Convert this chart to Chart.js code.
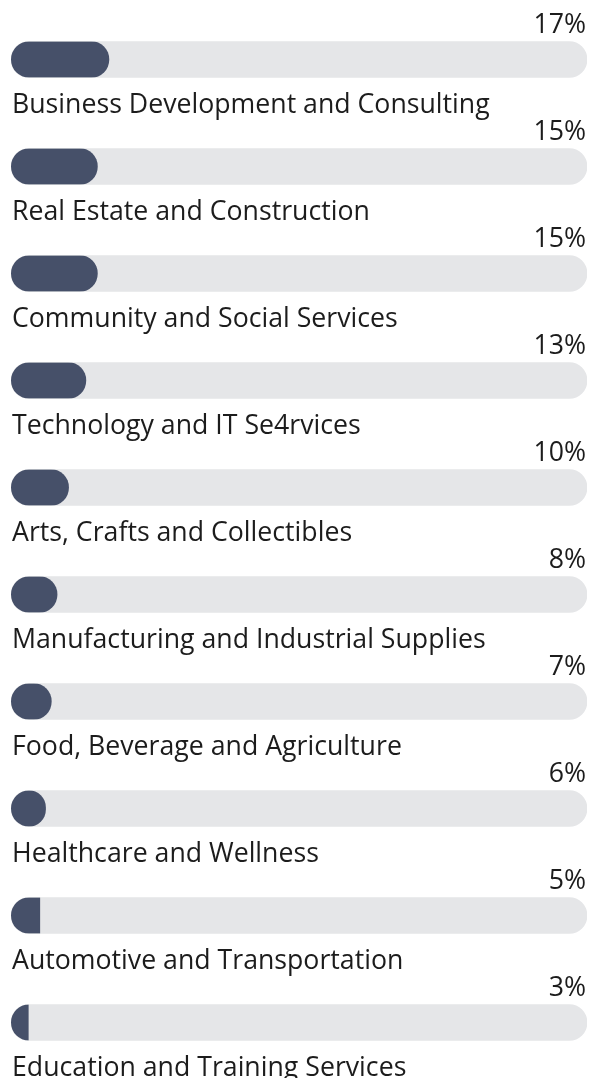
<!DOCTYPE html>
<html>
<head>
<meta charset="utf-8">
<script src="https://cdn.jsdelivr.net/npm/chart.js@4/dist/chart.umd.min.js"></script>
<style>
  html, body { margin: 0; padding: 0; background: #ffffff; }
  #wrap { position: relative; width: 591px; height: 1078px; }
</style>
</head>
<body>
<div id="wrap"><canvas id="chart"></canvas></div>
<script>
// Industry breakdown, share of total (%)
const categories = [
  'Business Development and Consulting',
  'Real Estate and Construction',
  'Community and Social Services',
  'Technology and IT Se4rvices',
  'Arts, Crafts and Collectibles',
  'Manufacturing and Industrial Supplies',
  'Food, Beverage and Agriculture',
  'Healthcare and Wellness',
  'Automotive and Transportation',
  'Education and Training Services'
];
const shares = [17, 15, 15, 13, 10, 8, 7, 6, 5, 3];
const trackMax = [100, 100, 100, 100, 100, 100, 100, 100, 100, 100];

const FILL = '#465069';
const TRACK = '#e5e6e8';
const TEXT = '#1c1c1c';
const THICK = 36;
const FONT = '26.7px "Open Sans", "Noto Sans", sans-serif';

// Clip the filled bars to the rounded track, then write the labels.
const progressPlugin = {
  id: 'progressBars',
  beforeDatasetDraw(chart, args) {
    if (args.index !== 0) return;
    const ctx = chart.ctx;
    const track = chart.getDatasetMeta(1).data;
    ctx.save();
    ctx.beginPath();
    track.forEach(el => {
      const h = el.height;
      ctx.roundRect(el.base, el.y - h / 2, el.x - el.base, h, h / 2);
    });
    ctx.clip();
  },
  afterDatasetDraw(chart, args) {
    if (args.index !== 0) return;
    chart.ctx.restore();
  },
  afterDatasetsDraw(chart) {
    const ctx = chart.ctx;
    const track = chart.getDatasetMeta(1).data;
    ctx.save();
    ctx.font = FONT;
    ctx.fillStyle = TEXT;
    ctx.textBaseline = 'alphabetic';
    track.forEach((el, i) => {
      ctx.textAlign = 'right';
      ctx.fillText(shares[i] + '%', el.x - 1, el.y - 26.4);
      ctx.textAlign = 'left';
      ctx.fillText(categories[i], el.base + 1, el.y + 53.6);
    });
    ctx.restore();
  }
};

new Chart(document.getElementById('chart'), {
  type: 'bar',
  data: {
    labels: categories,
    datasets: [
      {
        label: 'Share',
        data: shares,
        backgroundColor: FILL,
        barThickness: THICK,
        borderSkipped: 'start',
        borderRadius: (c) => {
          const x = c.chart.scales.x;
          const v = c.raw;
          if (!x || v == null) return 0;
          const w = x.getPixelForValue(v) - x.getPixelForValue(0);
          const r = w >= THICK - 2 ? THICK / 2 : 0;
          return { topLeft: 0, bottomLeft: 0, topRight: r, bottomRight: r };
        }
      },
      {
        label: 'Track',
        data: trackMax,
        backgroundColor: TRACK,
        barThickness: THICK,
        borderSkipped: false,
        borderRadius: THICK / 2
      }
    ]
  },
  options: {
    indexAxis: 'y',
    responsive: true,
    maintainAspectRatio: false,
    animation: false,
    grouped: false,
    layout: { padding: { left: 11, right: 4, top: 6, bottom: 2 } },
    scales: {
      x: { display: false, min: 0, max: 100 },
      y: { display: false, offset: true }
    },
    plugins: {
      legend: { display: false },
      tooltip: { enabled: false }
    }
  },
  plugins: [progressPlugin]
});
</script>
</body>
</html>
